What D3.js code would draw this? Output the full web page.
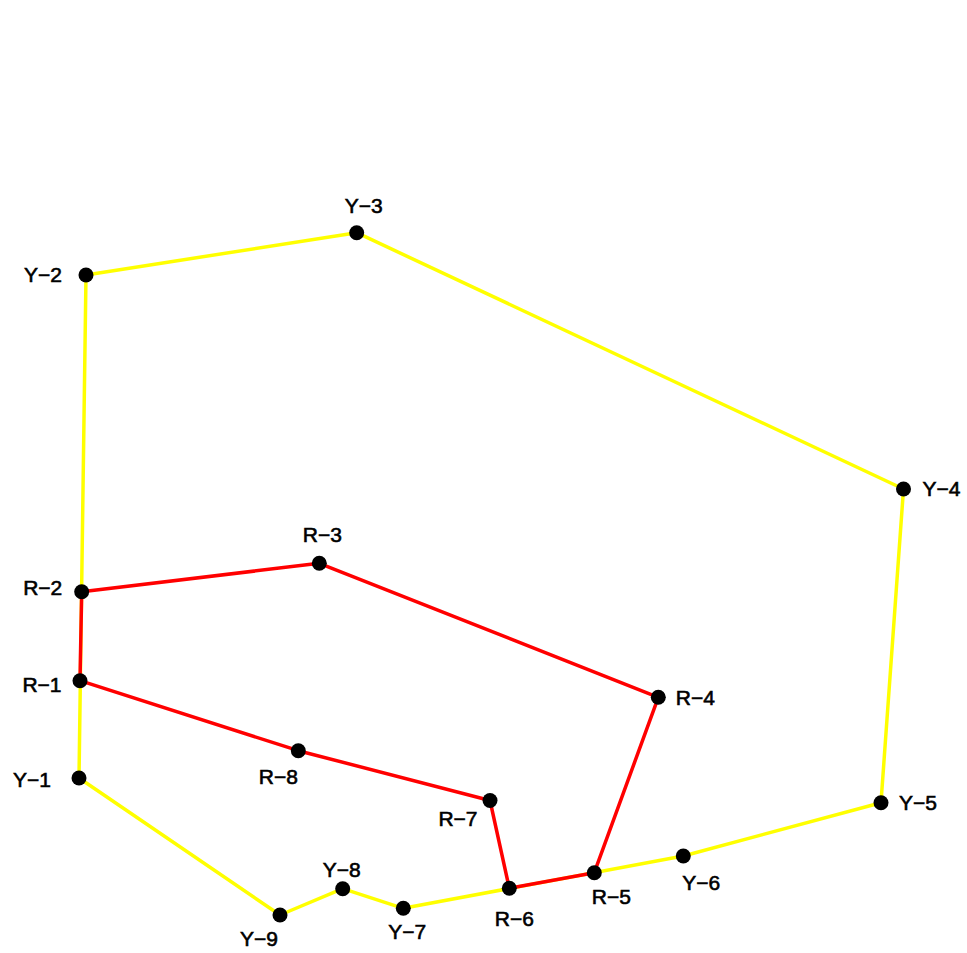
<!DOCTYPE html>
<html>
<head>
<meta charset="utf-8">
<script src="https://cdn.jsdelivr.net/npm/d3@7"></script>
<style>
  html, body { margin: 0; padding: 0; background: #fff; }
  svg { display: block; }
  .label { font-family: "Liberation Sans", Arial, sans-serif; font-size: 21px; fill: #000; stroke: #000; stroke-width: 0.6px; }
</style>
</head>
<body>
<div id="chart"></div>
<script>
const width = 967;
const height = 953;

// yellow route, in plot units (x right, y up)
const yellowNames = ["Y-1", "Y-2", "Y-3", "Y-4", "Y-5", "Y-6", "Y-7", "Y-8", "Y-9"];
const yellowX = [7.9, 8.6, 35.67, 90.35, 88.1, 68.33, 40.33, 34.27, 28.0];
const yellowY = [17.5, 67.8, 72.03, 46.4, 15.03, 9.7, 4.47, 6.43, 3.8];

// red route
const redNames = ["R-1", "R-2", "R-3", "R-4", "R-5", "R-6", "R-7", "R-8"];
const redX = [8.0, 8.17, 31.93, 65.83, 59.43, 50.93, 49.0, 29.83];
const redY = [27.23, 36.13, 38.97, 25.57, 8.03, 6.47, 15.25, 20.23];

// where each label sits relative to its dot (pixels, label centre)
const labelOffsets = {
  "Y-1": [-47, 1], "Y-2": [-43, -1], "Y-3": [7, -27], "Y-4": [38, -1],
  "Y-5": [37, 0], "Y-6": [18, 26], "Y-7": [4, 23], "Y-8": [-1, -19], "Y-9": [-21, 23],
  "R-1": [-38, 4], "R-2": [-39, -4], "R-3": [3, -29], "R-4": [37, 0],
  "R-5": [17, 24], "R-6": [5, 30], "R-7": [-32, 18], "R-8": [-20, 26]
};

const x = d3.scaleLinear().domain([0, 96.7]).range([0, width]);
const y = d3.scaleLinear().domain([0, 95.3]).range([height, 0]);

const yellow = yellowNames.map((n, i) => ({ name: n, x: yellowX[i], y: yellowY[i] }));
const red = redNames.map((n, i) => ({ name: n, x: redX[i], y: redY[i] }));

const svg = d3.select("#chart")
    .append("svg")
    .attr("width", width)
    .attr("height", height)
    .attr("viewBox", `0 0 ${width} ${height}`);

const line = d3.line()
    .x(d => x(d.x))
    .y(d => y(d.y))
    .curve(d3.curveLinearClosed);

svg.append("path")
    .datum(yellow)
    .attr("d", line)
    .attr("fill", "none")
    .attr("stroke", "#ffff00")
    .attr("stroke-width", 3.5)
    .attr("stroke-linejoin", "round");

svg.append("path")
    .datum(red)
    .attr("d", line)
    .attr("fill", "none")
    .attr("stroke", "#ff0000")
    .attr("stroke-width", 3.5)
    .attr("stroke-linejoin", "round");

const all = yellow.concat(red);

svg.selectAll("circle.dot")
    .data(all)
    .enter()
    .append("circle")
    .attr("class", "dot")
    .attr("cx", d => x(d.x))
    .attr("cy", d => y(d.y))
    .attr("r", 7.5)
    .attr("fill", "#000");

svg.selectAll("text.label")
    .data(all)
    .enter()
    .append("text")
    .attr("class", "label")
    .attr("x", d => x(d.x) + labelOffsets[d.name][0])
    .attr("y", d => y(d.y) + labelOffsets[d.name][1])
    .attr("text-anchor", "middle")
    .attr("dominant-baseline", "central")
    .text(d => d.name.replace("-", "\u2212"));
</script>
</body>
</html>
